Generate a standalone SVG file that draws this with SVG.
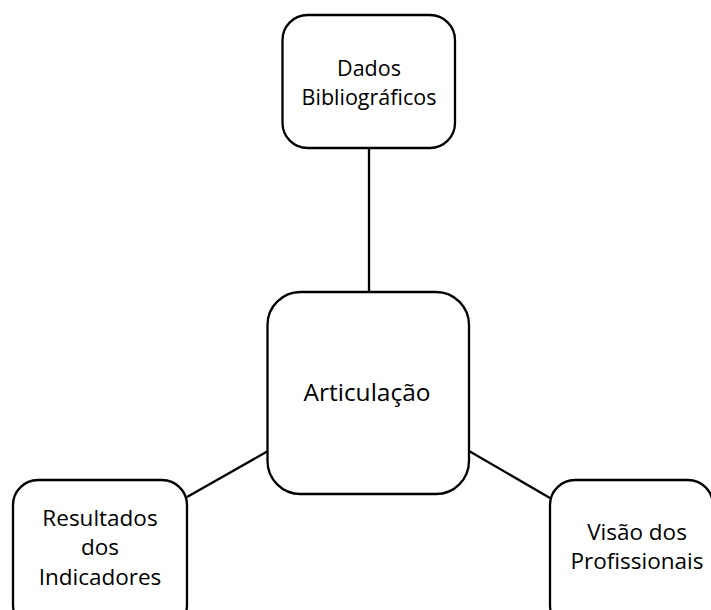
<svg xmlns="http://www.w3.org/2000/svg" width="711" height="610" viewBox="0 0 711 610">
<style>
.box{fill:#fff;stroke:#000;stroke-width:2.3}
.ln{stroke:#000;stroke-width:2.3;fill:none}
text{font-family:"Open Sans","Noto Sans",sans-serif;font-size:22.5px;fill:#000;text-anchor:middle}
.top{font-size:21.5px}
.big{font-size:24.5px}
</style>
<rect width="711" height="610" fill="#fff"/>
<g id="connectors">
<line class="ln" x1="369" y1="148" x2="369" y2="293"/>
<line class="ln" x1="187" y1="497" x2="268" y2="451"/>
<line class="ln" x1="469" y1="451" x2="550" y2="498"/>
</g>
<g id="dados">
<rect class="box" x="282.5" y="15" width="172.5" height="133" rx="25"/>
<text class="top" x="369" y="76">Dados</text>
<text class="top" x="369" y="105">Bibliográficos</text>
</g>
<g id="articulacao">
<rect class="box" x="267.5" y="292" width="201.5" height="202" rx="33"/>
<text class="big" x="367" y="401">Articulação</text>
</g>
<g id="resultados">
<rect class="box" x="13" y="480" width="174" height="150" rx="25"/>
<text x="100" y="526">Resultados</text>
<text x="100" y="555">dos</text>
<text x="100" y="585">Indicadores</text>
</g>
<g id="visao">
<rect class="box" x="550" y="480" width="163" height="150" rx="25"/>
<text x="637" y="540">Visão dos</text>
<text x="637" y="569">Profissionais</text>
</g>
</svg>
